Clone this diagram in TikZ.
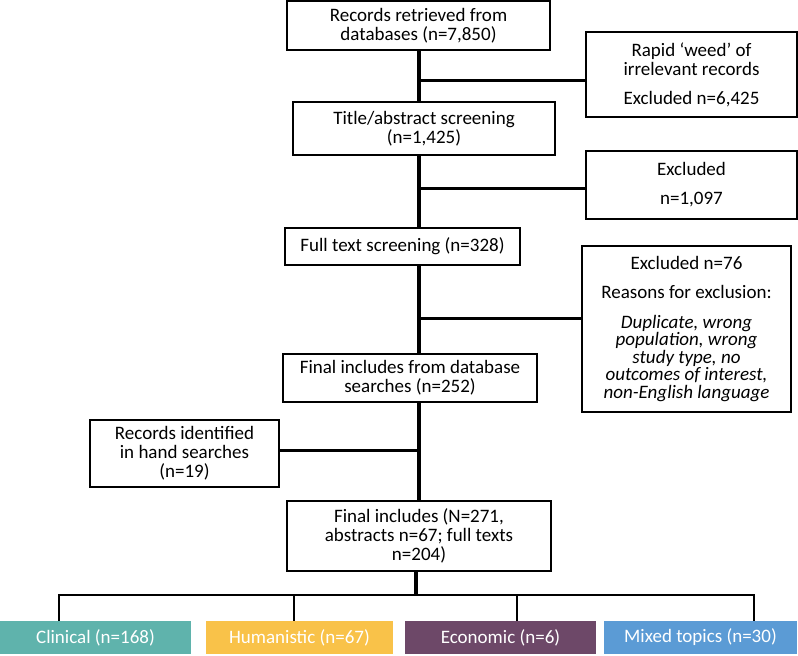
\documentclass[tikz,border=0pt]{standalone}
\usepackage{fontspec}
\setmainfont{Carlito}
\definecolor{clin}{HTML}{5FB3AC}
\definecolor{hum}{HTML}{F9C249}
\definecolor{eco}{HTML}{6D4868}
\definecolor{mix}{HTML}{5B9BD5}
\tikzset{
  box/.style={draw=black, line width=2pt, fill=white, align=center, inner sep=0pt,
    font=\fontsize{19}{19}\selectfont},
  cat/.style={draw=none, align=center, inner sep=0pt, text=white,
    minimum height=33pt, font=\fontsize{19}{19}\selectfont},
  trunk/.style={line width=3.5pt},
  branch/.style={line width=3pt},
  bracket/.style={line width=2.5pt}
}
\begin{document}
\begin{tikzpicture}[x=1pt,y=-1pt]
\useasboundingbox (0,0) rectangle (798,656);
\node[box, minimum width=263pt, minimum height=49pt] (b1) at (418.5,25.5) {Records retrieved from\\databases (n=7,850)};
\node[box, minimum width=262pt, minimum height=53pt] (b2) at (424,128.5) {Title/abstract screening\\(n=1,425)};
\node[box, minimum width=211pt, minimum height=85pt] (rw) at (691.5,74.5) {Rapid ‘weed’ of\\irrelevant records\\[10pt]Excluded n=6,425};
\node[box, minimum width=211pt, minimum height=68pt] (ex1) at (691.5,185) {Excluded\\[10pt]n=1,097};
\node[box, minimum width=235pt, minimum height=37pt] (ft) at (402.5,246.5) {Full text screening (n=328)};
\node[box, minimum width=209pt, minimum height=166pt, font=\fontsize{19}{17.5}\selectfont] (ex2) at (686.5,329) {Excluded n=76\\[12pt]Reasons for exclusion:\\[12pt]\itshape Duplicate, wrong\\\itshape population, wrong\\\itshape study type, no\\\itshape outcomes of interest,\\\itshape non-English language};
\node[box, minimum width=254pt, minimum height=48pt] (fd) at (410,378) {Final includes from database\\searches (n=252)};
\node[box, minimum width=189pt, minimum height=67pt] (hs) at (184.5,453.5) {Records identified\\in hand searches\\(n=19)};
\node[box, minimum width=264pt, minimum height=70pt] (fi) at (419,536) {Final includes (N=271,\\abstracts n=67; full texts\\n=204)};
\node[cat, fill=clin, minimum width=191pt] (cl) at (95.5,637.5) {Clinical (n=168)};
\node[cat, fill=hum, minimum width=187pt] (hu) at (299.5,637.5) {Humanistic (n=67)};
\node[cat, fill=eco, minimum width=191pt] (ec) at (500.5,637.5) {Economic (n=6)};
\node[cat, fill=mix, minimum width=193pt] (mx) at (700.5,637.5) {Mixed topics (n=30)};
\coordinate (tx) at (419,0);
\coordinate (j1) at (419,80);
\coordinate (j2) at (419,188);
\coordinate (j3) at (419,318);
\coordinate (j4) at (419,450);
\coordinate (jb) at (416,595);
\coordinate (d1) at (59,595);
\coordinate (d2) at (294,595);
\coordinate (d3) at (517,595);
\coordinate (d4) at (754,595);
\draw[trunk] (b1.south -| tx) -- (b2.north -| tx);
\draw[trunk] (b2.south -| tx) -- (ft.north -| tx);
\draw[trunk] (ft.south -| tx) -- (fd.north -| tx);
\draw[trunk] (fd.south -| tx) -- (fi.north -| tx);
\draw[branch] (j1) -- (j1 -| rw.west);
\draw[branch] (j2) -- (j2 -| ex1.west);
\draw[branch] (j3) -- (j3 -| ex2.west);
\draw[branch] (j4 -| hs.east) -- (j4);
\draw[trunk] (fi.south -| jb) -- (jb);
\draw[bracket, line cap=rect] (d1) -- (d4);
\draw[bracket] (d1) -- (d1 |- cl.north);
\draw[bracket] (d2) -- (d2 |- hu.north);
\draw[bracket] (d3) -- (d3 |- ec.north);
\draw[bracket] (d4) -- (d4 |- mx.north);
\end{tikzpicture}
\end{document}
